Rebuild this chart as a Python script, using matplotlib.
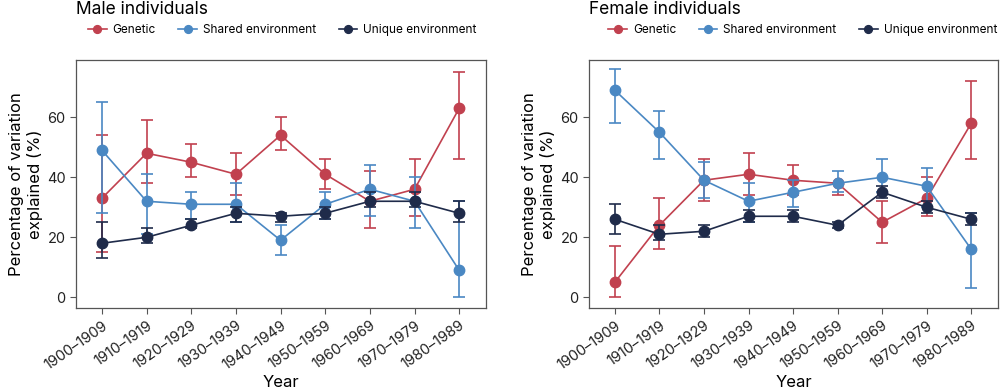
import numpy as np
import matplotlib.pyplot as plt
import matplotlib.transforms as mtransforms

plt.rcParams['font.family'] = ['Inter', 'DejaVu Sans']

decades = ['1900–1909', '1910–1919', '1920–1929', '1930–1939', '1940–1949',
           '1950–1959', '1960–1969', '1970–1979', '1980–1989']

# male individuals: estimate, lower, upper
male_gen = [33, 48, 45, 41, 54, 41, 32, 36, 63]
male_gen_lo = [15, 38, 40, 34, 49, 36, 23, 27, 46]
male_gen_hi = [54, 59, 51, 48, 60, 46, 42, 46, 75]
male_sh = [49, 32, 31, 31, 19, 31, 36, 32, 9]
male_sh_lo = [28, 21, 26, 25, 14, 26, 27, 23, 0]
male_sh_hi = [65, 41, 35, 38, 24, 35, 44, 40, 32]
male_un = [18, 20, 24, 28, 27, 28, 32, 32, 28]
male_un_lo = [13, 18, 23, 25, 25, 26, 30, 30, 25]
male_un_hi = [25, 23, 26, 30, 28, 30, 35, 35, 32]

# female individuals
fem_gen = [5, 24, 39, 41, 39, 38, 25, 33, 58]
fem_gen_lo = [0, 16, 32, 34, 34, 34, 18, 27, 46]
fem_gen_hi = [17, 33, 46, 48, 44, 38, 32, 40, 72]
fem_sh = [69, 55, 39, 32, 35, 38, 40, 37, 16]
fem_sh_lo = [58, 46, 33, 25, 30, 35, 35, 30, 3]
fem_sh_hi = [76, 62, 45, 38, 39, 42, 46, 43, 28]
fem_un = [26, 21, 22, 27, 27, 24, 35, 30, 26]
fem_un_lo = [21, 19, 20, 25, 25, 23, 33, 28, 24]
fem_un_hi = [31, 24, 24, 29, 29, 25, 37, 32, 28]

c_gen = '#c1414f'
c_sh = '#4a88c3'
c_un = '#1f2b4a'
spine_c = '#555555'

fig = plt.figure(figsize=(10, 3.91), dpi=100)
ax1 = fig.add_axes([0.076, 0.212, 0.41, 0.634])
ax2 = fig.add_axes([0.589, 0.212, 0.409, 0.634])

x = np.arange(len(decades))

panels = [
    (ax1, 'Male individuals', 0.02,
     [(male_gen, male_gen_lo, male_gen_hi, c_gen, 'Genetic'),
      (male_sh, male_sh_lo, male_sh_hi, c_sh, 'Shared environment'),
      (male_un, male_un_lo, male_un_hi, c_un, 'Unique environment')]),
    (ax2, 'Female individuals', 0.038,
     [(fem_gen, fem_gen_lo, fem_gen_hi, c_gen, 'Genetic'),
      (fem_sh, fem_sh_lo, fem_sh_hi, c_sh, 'Shared environment'),
      (fem_un, fem_un_lo, fem_un_hi, c_un, 'Unique environment')]),
]

shift = mtransforms.ScaledTranslation(5 / 100, 0, fig.dpi_scale_trans)

for ax, title, legx, series in panels:
    handles = []
    for vals, lo, hi, col, lab in series:
        v = np.array(vals)
        err = [v - np.array(lo), np.array(hi) - v]
        ax.errorbar(x, v, yerr=err, fmt='none', ecolor=col, elinewidth=1.2,
                    capsize=4, capthick=1.2)
        h, = ax.plot(x, v, '-o', color=col, lw=1.2, ms=7.5, label=lab)
        handles.append(h)
    ax.set_xlim(-0.58, 8.6)
    ax.set_ylim(-3.6, 79)
    ax.set_yticks([0, 20, 40, 60])
    ax.set_xticks(x)
    ax.set_xticklabels(decades, rotation=35, ha='right', rotation_mode='anchor')
    for lbl in ax.get_xticklabels():
        lbl.set_transform(lbl.get_transform() + shift)
    ax.tick_params(labelsize=10.5, colors='#222222', length=4, color=spine_c)
    for s in ax.spines.values():
        s.set_color(spine_c)
        s.set_linewidth(0.9)
    ax.set_xlabel('Year', fontsize=12, labelpad=2)
    ax.set_ylabel('Percentage of variation\nexplained (%)', fontsize=12,
                  labelpad=3)
    pos = ax.get_position()
    fig.text(pos.x0, 1 - 14 / 391, title, fontsize=12.5,
             ha='left', va='baseline')
    ax.legend(handles=handles, ncol=3, frameon=False, fontsize=8.5,
              loc='center left', bbox_to_anchor=(legx, 1.121),
              handlelength=1.6, columnspacing=1.9, handletextpad=0.5,
              markerscale=0.75, borderaxespad=0, borderpad=0.3)

fig.savefig('out.png', dpi=100)
